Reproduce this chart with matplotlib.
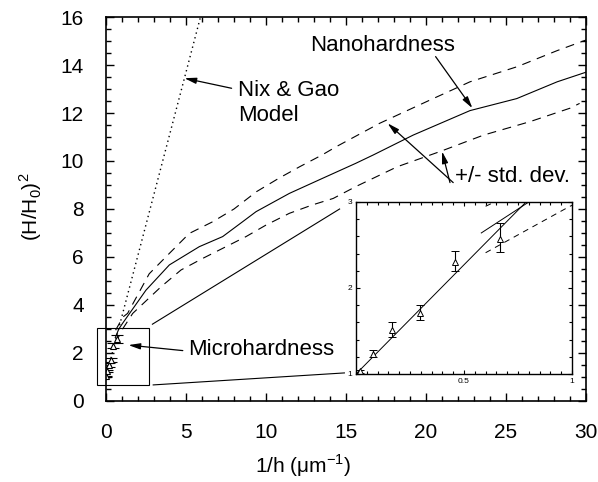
import matplotlib
matplotlib.use("Agg")
import matplotlib.pyplot as plt
from matplotlib.patches import Rectangle
from matplotlib.ticker import MultipleLocator

plt.rcParams['font.family'] = ['Liberation Sans', 'DejaVu Sans']

# nanohardness mean and +/- std. dev. curves
nano_x = [0.58, 0.8, 1.04, 2.5, 3.96, 5.83, 7.29, 8.54, 9.38, 11.46, 13.54, 15.6,
          16.7, 19.2, 22.75, 25.67, 28.2, 30.0]
nano_y = [2.64, 3.0, 3.24, 4.62, 5.67, 6.43, 6.85, 7.47, 7.89, 8.65, 9.28, 9.9,
          10.25, 11.08, 12.1, 12.6, 13.3, 13.7]
upper_x = [0.6, 1.06, 1.35, 2.7, 3.96, 5.2, 6.67, 8.0, 9.4, 10.8, 12.1, 13.5,
           14.4, 17.1, 20.25, 22.75, 25.7, 28.2, 30.0]
upper_y = [2.95, 3.5, 3.65, 5.3, 6.15, 6.98, 7.47, 8.0, 8.72, 9.28, 9.76, 10.25,
           10.6, 11.57, 12.54, 13.3, 13.93, 14.6, 15.04]
lower_x = [0.6, 0.99, 1.67, 3.44, 4.69, 6.04, 7.29, 8.75, 10.0, 11.46, 12.9, 14.2,
           15.6, 18.2, 20.9, 23.6, 26.5, 29.0, 29.6]
lower_y = [2.41, 2.95, 3.65, 4.76, 5.46, 5.94, 6.36, 6.85, 7.33, 7.82, 8.17, 8.44,
           8.93, 9.76, 10.4, 11.08, 11.64, 12.2, 12.4]

# Nix & Gao model line
nix_x = [0.0, 6.0]
nix_y = [1.0, 16.24]

# microhardness points with error bars
micro_x = [0.019, 0.08, 0.165, 0.296, 0.46, 0.667]
micro_y = [1.03, 1.23, 1.51, 1.71, 2.30, 2.57]
micro_lo = [1.01, 1.20, 1.43, 1.63, 2.20, 2.42]
micro_hi = [1.05, 1.28, 1.60, 1.80, 2.43, 2.76]
err = [[y - l for y, l in zip(micro_y, micro_lo)],
       [h - y for y, h in zip(micro_y, micro_hi)]]

fig = plt.figure(figsize=(5.98, 4.82), dpi=100)
ax = fig.add_axes([106/598, 81/482, 480/598, 384/482])

dash = (0, (8, 6))
ax.plot(nano_x, nano_y, 'k-', lw=0.8)
ax.plot(upper_x, upper_y, color='k', ls=dash, lw=0.8)
ax.plot(lower_x, lower_y, color='k', ls=dash, lw=0.8)
ax.plot(nix_x, nix_y, color='k', ls=(0, (1, 2.5)), lw=1.0)
ax.errorbar(micro_x, micro_y, yerr=err, fmt='^', mfc='white', mec='k', ms=5,
            ecolor='k', elinewidth=0.8, capsize=4, mew=0.8)

ax.set_xlim(0, 30)
ax.set_ylim(0, 16)
ax.xaxis.set_major_locator(MultipleLocator(5))
ax.xaxis.set_minor_locator(MultipleLocator(1))
ax.yaxis.set_major_locator(MultipleLocator(2))
ax.yaxis.set_minor_locator(MultipleLocator(0.5))
ax.tick_params(which='both', direction='in', top=True, right=True, labelsize=15)
ax.tick_params(which='major', length=6, width=1, pad=16)
ax.tick_params(which='minor', length=3.5, width=1)
for s in ax.spines.values():
    s.set_linewidth(1.2)

ax.set_xlabel('1/h (μm$^{\\mathregular{-1}}$)', fontsize=15)
ax.xaxis.set_label_coords((303 - 106) / 480, -0.135)
ax.set_ylabel('(H/H$_{\\mathregular{0}}$)$^{\\mathregular{2}}$', fontsize=15)
ax.yaxis.set_label_coords(-0.13, 0.505)

# zoom box and connecting lines
ax.add_patch(Rectangle((-0.56, 0.67), 3.26, 2.38, fill=False, lw=0.8,
                       ec='k', clip_on=False))
ax.plot([2.9, 14.6], [3.2, 8.0], 'k-', lw=0.8)
ax.plot([2.95, 14.9], [0.67, 1.17], 'k-', lw=0.8)

arrow = dict(arrowstyle='-|>,head_width=0.18,head_length=0.7', color='k', lw=0.9,
             shrinkA=0, shrinkB=0)
ax.text(8.25, 12.4, 'Nix & Gao\nModel', fontsize=16, va='center', ha='left',
        linespacing=1.25)
ax.annotate('', xy=(4.9, 13.45), xytext=(7.85, 13.03), arrowprops=arrow)
ax.text(12.75, 14.8, 'Nanohardness', fontsize=16, va='center', ha='left')
ax.annotate('', xy=(22.9, 12.2), xytext=(20.6, 14.35), arrowprops=arrow)
ax.text(21.8, 9.35, '+/- std. dev.', fontsize=16, va='center', ha='left')
ax.annotate('', xy=(17.6, 11.57), xytext=(21.7, 9.1), arrowprops=arrow)
ax.annotate('', xy=(21.0, 10.4), xytext=(21.5, 9.1), arrowprops=arrow)
ax.text(5.12, 2.15, 'Microhardness', fontsize=16, va='center', ha='left')
ax.annotate('', xy=(1.4, 2.33), xytext=(4.8, 2.1), arrowprops=arrow)

# inset
ins = fig.add_axes([356/598, 108/482, 216/598, 172/482])
ins.plot(nano_x, nano_y, 'k-', lw=0.7)
ins.plot(upper_x, upper_y, color='k', ls=(0, (6, 5)), lw=0.7)
ins.plot(lower_x, lower_y, color='k', ls=(0, (6, 5)), lw=0.7)
ins.plot(nix_x, nix_y, 'k-', lw=0.7)
ins.errorbar(micro_x, micro_y, yerr=err, fmt='^', mfc='white', mec='k', ms=4,
             ecolor='k', elinewidth=0.8, capsize=3, mew=0.7)
ins.set_xlim(0, 1)
ins.set_ylim(1, 3)
ins.set_xticks([0.5, 1])
ins.set_xticklabels(['0.5', '1'])
ins.set_yticks([1, 2, 3])
ins.xaxis.set_minor_locator(MultipleLocator(0.05))
ins.yaxis.set_minor_locator(MultipleLocator(0.2))
ins.tick_params(which='both', direction='in', top=True, right=True, labelsize=6,
                pad=3, width=0.8)
ins.tick_params(which='major', length=3)
ins.tick_params(which='minor', length=2)
for s in ins.spines.values():
    s.set_linewidth(1.0)

fig.savefig('out.png', dpi=100)
